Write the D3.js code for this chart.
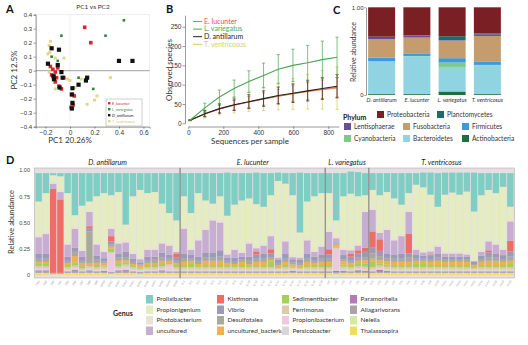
<!DOCTYPE html>
<html>
<head>
<meta charset="utf-8">
<script src="https://cdn.jsdelivr.net/npm/d3@7"></script>
<style>
body { margin: 0; background: #fff; }
svg { display: block; font-family: Lato, "Open Sans", sans-serif; }
</style>
</head>
<body>
<div id="fig"></div>
<script>
// ---------- A: PCoA ----------
const pcaLucunter = [[0.12,0.31],[0.17,0.20],[-0.16,0.03],[-0.14,0.01],[-0.12,-0.01],[-0.15,-0.03],[-0.13,-0.04],[-0.11,-0.05],[-0.10,0.02],[-0.05,-0.05],[-0.09,-0.11],[-0.07,-0.13],[0.02,-0.17],[0.035,-0.18],[0.025,-0.245],[0.01,-0.26],[-0.12,-0.08]];
const pcaVariegatus = [[-0.07,0.25],[0.44,0.36],[0.29,0.25],[0.19,-0.13],[0.07,-0.05],[-0.10,0.07],[-0.15,0.10]];
const pcaAntillarum = [[-0.15,0.16],[-0.09,0.15],[-0.18,0.05],[-0.10,0.04],[-0.07,-0.01],[-0.135,-0.04],[-0.13,-0.06],[-0.06,-0.05],[-0.085,-0.12],[0.02,-0.125],[0.015,-0.17],[0.02,-0.23],[0.015,-0.27],[0.07,-0.10],[0.13,-0.07],[0.14,-0.05],[0.40,0.07],[0.51,0.07]];
const pcaVentricosus = [[-0.16,0.21],[-0.17,0.18],[-0.165,0.13],[-0.18,0.12],[-0.12,0.09],[-0.17,-0.01],[-0.14,-0.07],[-0.05,0.09],[-0.02,-0.06],[0.0,-0.07],[0.04,-0.12],[0.33,-0.05],[0.20,-0.21],[0.14,-0.24],[-0.12,-0.13],[0.09,-0.06],[0.22,-0.18]];

// ---------- B: rarefaction ----------
const depths = [10,94,178,262,346,430,514,598,682,766,850];
const obsLucunter = [8,24,37,47,55,63,70,77,83,88,93];
const errLucunter = [1,6,9,12,14,16,18,20,22,24,25];
const obsVariegatus = [8,40,68,90,108,124,140,150,157,165,171];
const errVariegatus = [1,12,18,22,28,32,38,42,45,48,52];
const obsAntillarum = [8,25,38,48,56,64,72,78,84,90,96];
const errAntillarum = [1,8,12,15,18,20,22,24,26,28,30];
const obsVentricosus = [8,24,37,47,56,63,70,76,82,87,91];
const errVentricosus = [1,10,15,20,25,30,35,40,45,50,55];

// ---------- C: phylum ----------
const hosts = ["D. antillarum","E. lucunter","L. variegatus","T. ventricosus"];
const actinobacteria = [0.01,0.01,0.04,0.01];
const bacteroidetes  = [0.37,0.43,0.28,0.33];
const cyanobacteria  = [0.005,0.005,0.05,0.003];
const firmicutes     = [0.04,0.03,0.05,0.04];
const fusobacteria   = [0.21,0.18,0.20,0.29];
const lentisphaerae  = [0.015,0.02,0.005,0.02];
const planctomycetes = [0.015,0.005,0.045,0.01];
const proteobacteria = [0.335,0.32,0.33,0.297];

// ---------- D: genus per sample ----------
const groupCodes = ["DA","EL","LV","TV"];
const groupSizes = [20,20,6,20];
const prolixibacter = [
  .27,.19,.02,.03,.19,.40,.31,.27,.22,.19,.21,.18,.49,.22,.16,.19,.18,.29,.38,.45,
  .22,.38,.19,.26,.29,.22,.41,.30,.26,.24,.30,.32,.21,.08,.10,.21,.57,.27,.22,.19,
  .19,.45,.22,.21,.23,.21,
  .16,.21,.18,.24,.30,.19,.11,.14,.21,.32,.21,.19,.21,.18,.37,.21,.16,.19,.13,.32];
const propionigenium = [
  .32,.37,.06,.13,.47,.11,.41,.08,.44,.54,.30,.47,.15,.53,.64,.52,.53,.36,.29,.28,
  .29,.33,.43,.26,.14,.23,.35,.41,.48,.41,.40,.35,.37,.71,.53,.57,.22,.35,.51,.49,
  .35,.15,.49,.52,.45,.14,
  .17,.34,.34,.38,.28,.16,.60,.60,.52,.36,.54,.56,.54,.58,.45,.52,.47,.47,.58,.12];
const photobacterium = [
  .02,.02,.02,.02,.02,.02,.02,.02,.02,.02,.02,.02,.02,.02,.02,.02,.02,.02,.02,.02,
  .02,.02,.02,.02,.02,.02,.02,.02,.02,.02,.02,.02,.02,.02,.02,.02,.02,.02,.02,.02,
  .02,.02,.02,.02,.02,.02,
  .02,.02,.02,.02,.02,.02,.02,.02,.02,.02,.02,.02,.02,.02,.02,.02,.02,.02,.02,.02];
const uncultured = [
  .155,.185,.05,.07,.115,.18,.055,.135,.105,.06,.07,.095,.09,.045,.03,.065,.065,.085,.085,.015,
  .235,.045,.155,.215,.305,.265,.03,.075,.035,.125,.03,.075,.125,.02,.115,.02,.02,.125,.045,.075,
  .165,.04,.05,.03,.045,.34,
  .205,.06,.23,.135,.165,.205,.045,.03,.03,.065,.03,.03,.03,.02,.01,.035,.085,.085,.045,.185];
const kistimonas = [
  0,0,.80,.70,0,0,0,.02,0,0,.05,0,0,0,0,0,0,0,0,.04,
  0,0,0,0,0,0,0,0,0,0,.03,0,.04,0,0,0,0,0,0,0,
  .05,0,0,.03,.03,.04,
  .15,.11,0,0,0,.19,0,0,.01,0,0,0,0,0,0,0,.02,0,.01,.10];
const vibrio = [
  .05,.05,0,0,.04,.04,.04,.03,.04,.03,.03,.04,.05,.03,.02,.04,.03,.05,.04,.03,
  .05,.04,.04,.05,.05,.06,.03,.04,.03,.04,.04,.05,.04,.03,.05,.03,.03,.05,.04,.04,
  .04,.01,.04,.04,.04,.05,
  .06,.05,.04,.04,.05,.04,.04,.03,.04,.04,.03,.03,.03,.03,.02,.04,.05,.04,.04,.05];
const desulfotalea = [
  .03,.03,0,0,.02,.04,.02,.30,.03,.02,.02,.03,.03,.02,.01,.02,.03,.03,.02,.02,
  .03,.02,.03,.03,.03,.04,.02,.02,.02,.03,.03,.03,.02,.02,.03,.02,.02,.03,.02,.03,
  .03,.01,.02,.02,.03,.03,
  .05,.04,.03,.03,.03,.04,.02,.02,.02,.03,.02,.02,.02,.02,.01,.02,.03,.03,.02,.04];
const unculturedBacterium = [
  .02,.02,.01,.01,.02,.06,.03,.02,.02,.02,.02,.03,.02,.02,.02,.02,.02,.03,.02,.02,
  .03,.03,.02,.04,.04,.04,.03,.02,.03,.02,.03,.03,.02,.02,.03,.02,.02,.03,.02,.03,
  .03,.02,.03,.02,.03,.03,
  .03,.03,.03,.03,.03,.03,.03,.03,.03,.04,.03,.03,.03,.03,.02,.03,.04,.04,.03,.03];
const sedimentibacter = [
  .02,.02,0,0,.02,.03,.02,.01,.02,.01,.03,.02,.02,.01,.01,.02,.02,.02,.01,.02,
  .02,.03,.01,.02,.02,.02,.01,.01,.02,.01,.02,.02,.05,.01,.02,.01,.01,.02,.02,.02,
  .02,.01,.02,.02,.02,.03,
  .05,.02,.02,.02,.02,.02,.03,.03,.02,.02,.02,.02,.02,.02,.01,.02,.02,.02,.02,.03];
const ferrimonas = [
  .02,.02,0,0,.02,.02,.02,.02,.02,.02,.01,.02,.02,.02,.01,.02,.02,.02,.02,.02,
  .02,.02,.02,.02,.02,.02,.02,.02,.02,.02,.02,.02,.02,.01,.02,.01,.01,.02,.02,.02,
  .02,.01,.02,.02,.02,.02,
  .02,.02,.02,.02,.02,.02,.02,.02,.02,.02,.02,.02,.02,.02,.01,.02,.02,.02,.02,.02];
const propionibacterium = [
  .01,.01,0,0,.01,.01,0,.01,.01,.01,.17,.01,.02,.01,.01,.01,.01,.01,.04,.01,
  .01,.01,.01,.01,.01,.01,.01,.01,.01,.01,.01,.01,.01,.01,.01,.01,.01,.01,.01,.01,
  .01,.20,.01,.01,.01,.01,
  .01,.01,.01,.01,.01,.01,.01,.01,.01,.01,.01,.01,.01,.01,.01,.01,.01,.01,.01,.01];
const persicobacter = [
  .01,.01,.005,.005,.01,.01,.01,.01,.01,.01,.01,.01,.01,.01,.01,.01,.01,.01,.01,.01,
  .01,.01,.01,.01,.01,.01,.01,.01,.01,.01,.01,.01,.01,.01,.01,.01,.01,.01,.01,.01,
  .01,.01,.01,.01,.01,.01,
  .01,.01,.01,.01,.01,.01,.01,.01,.01,.01,.01,.01,.01,.01,.01,.01,.01,.01,.01,.01];
const paramoritella = [
  .005,.005,0,0,.005,.01,.005,.005,.005,.01,.005,.005,.01,.005,.005,.005,.005,.005,.005,.005,
  .005,.005,.005,.005,.005,.005,.005,.005,.005,.005,.005,.005,.005,.005,.005,.01,.005,.005,.005,.005,
  .005,.015,.01,.005,.015,.01,
  .005,.02,.01,.005,.005,.005,.005,.005,.005,.005,.005,.005,.005,.005,.005,.005,.005,.005,.005,.005];
const aliagarivorans = [
  .02,.02,0,0,.01,.02,.01,.02,.01,.01,.01,.02,.02,.01,.01,.01,.01,.02,.01,.01,
  .01,.01,.01,.01,.01,.01,.01,.01,.01,.01,.01,.01,.01,.01,.01,.01,.01,.01,.01,.01,
  .01,.01,.01,.01,.01,.01,
  .01,.01,.01,.01,.01,.01,.01,.01,.01,.01,.01,.01,.01,.01,.01,.01,.01,.01,.01,.01];
const neiella = [
  .01,.01,0,0,.01,.01,.01,.01,.01,.01,.01,.01,.01,.01,.01,.01,.01,.01,.01,.01,
  .01,.01,.01,.01,.01,.01,.01,.01,.01,.01,.01,.01,.01,.01,.01,.01,.01,.01,.01,.01,
  .01,.01,.01,.01,.01,.01,
  .01,.01,.01,.01,.01,.01,.01,.01,.01,.01,.01,.01,.01,.01,.01,.01,.01,.01,.01,.01];
const thalassospira = [
  .01,.01,.005,.005,.01,.01,.01,.01,.01,.01,.005,.01,.01,.01,.005,.01,.01,.01,.01,.01,
  .01,.01,.01,.01,.01,.01,.01,.01,.01,.01,.01,.01,.01,.01,.01,.01,.01,.01,.01,.01,
  .01,.005,.01,.01,.01,.01,
  .01,.01,.01,.01,.01,.01,.01,.01,.01,.01,.01,.01,.01,.01,.01,.01,.01,.01,.01,.01];

const genera = [
  { name: "Prolixibacter", values: prolixibacter, color: "#80cdc3" },
  { name: "Propionigenium", values: propionigenium, color: "#e5ecc1" },
  { name: "Photobacterium", values: photobacterium, color: "#ebe2d6" },
  { name: "uncultured", values: uncultured, color: "#c7add1" },
  { name: "Kistimonas", values: kistimonas, color: "#ee6e66" },
  { name: "Vibrio", values: vibrio, color: "#9c99b9" },
  { name: "Desulfotalea", values: desulfotalea, color: "#a9aa9b" },
  { name: "uncultured_bacterium", values: unculturedBacterium, color: "#efb04f" },
  { name: "Sedimentibacter", values: sedimentibacter, color: "#a5cf5c" },
  { name: "Ferrimonas", values: ferrimonas, color: "#dccaa9" },
  { name: "Propionibacterium", values: propionibacterium, color: "#eccadd" },
  { name: "Persicobacter", values: persicobacter, color: "#d7d7d7" },
  { name: "Paramoritella", values: paramoritella, color: "#b47ab8" },
  { name: "Aliagarivorans", values: aliagarivorans, color: "#aba2aa" },
  { name: "Neiella", values: neiella, color: "#d4e8a9" },
  { name: "Thalassospira", values: thalassospira, color: "#f2dc5b" },
];

const speciesColor = {
  lucunter: "#d8262f", variegatus: "#2e8540", antillarum: "#111", ventricosus: "#e0d98a",
};

const svg = d3.select("#fig").append("svg").attr("width", 528).attr("height", 345);
svg.append("rect").attr("width", 528).attr("height", 345).attr("fill", "#fff");

function styleAxis(g, size) {
  g.selectAll("text").style("font-size", size + "px").attr("fill", "#333");
  g.selectAll("line").attr("stroke", "#555").attr("stroke-width", 0.6);
  g.select(".domain").attr("stroke", "#555").attr("stroke-width", 0.6);
}

function panelLetter(t, x, y) {
  svg.append("text").attr("x", x).attr("y", y).text(t)
    .style("font-size", "11px").style("font-weight", "bold").attr("fill", "#111");
}

// ===== Panel A =====
function drawA() {
  const x = d3.scaleLinear().domain([-0.28, 0.65]).range([35.7, 149.6]);
  const y = d3.scaleLinear().domain([-0.4, 0.4]).range([126.7, 14.7]);
  const g = svg.append("g");
  g.append("rect").attr("x", x(-0.28)).attr("y", y(0.4))
    .attr("width", x(0.65) - x(-0.28)).attr("height", y(-0.4) - y(0.4))
    .attr("fill", "none").attr("stroke", "#ddd").attr("stroke-width", 0.5);
  g.append("line").attr("x1", x(0)).attr("x2", x(0)).attr("y1", y(0.4)).attr("y2", y(-0.4))
    .attr("stroke", "#ccc").attr("stroke-width", 0.5).attr("stroke-dasharray", "1,1");
  g.append("line").attr("x1", x(-0.28)).attr("x2", x(0.65)).attr("y1", y(0)).attr("y2", y(0))
    .attr("stroke", "#777").attr("stroke-width", 0.7);
  const fmt = (d) => (d === 0 ? "0" : d3.format(".1f")(d));
  const xa = g.append("g").attr("transform", `translate(0,${y(-0.4)})`)
    .call(d3.axisBottom(x).tickValues([-0.2, 0, 0.2, 0.4, 0.6]).tickSize(2).tickPadding(1.5).tickFormat(fmt));
  styleAxis(xa, 6.5);
  const ya = g.append("g").attr("transform", `translate(${x(-0.28)},0)`)
    .call(d3.axisLeft(y).tickValues(d3.range(-4, 5).map((d) => d / 10)).tickSize(2).tickPadding(1.5).tickFormat(fmt));
  styleAxis(ya, 6);

  const sets = [
    { pts: pcaVentricosus, color: speciesColor.ventricosus, s: 3 },
    { pts: pcaLucunter, color: speciesColor.lucunter, s: 3.6 },
    { pts: pcaAntillarum, color: speciesColor.antillarum, s: 4.2 },
    { pts: pcaVariegatus, color: speciesColor.variegatus, s: 2.6 },
  ];
  sets.forEach((set) => {
    g.append("g").selectAll("rect").data(set.pts).enter().append("rect")
      .attr("x", (d) => x(d[0]) - set.s / 2).attr("y", (d) => y(d[1]) - set.s / 2)
      .attr("width", set.s).attr("height", set.s).attr("fill", set.color);
  });

  g.append("text").attr("x", 93).attr("y", 9).attr("text-anchor", "middle")
    .style("font-size", "6.5px").attr("fill", "#333").text("PC1 vs PC2");
  g.append("text").attr("transform", "translate(17,70) rotate(-90)").attr("text-anchor", "middle")
    .style("font-size", "8px").attr("fill", "#333").text("PC2 12.5%");
  g.append("text").attr("x", 70).attr("y", 143).attr("text-anchor", "middle")
    .style("font-size", "8px").attr("fill", "#333").text("PC1 20.26%");

  // legend
  const lg = g.append("g").attr("transform", "translate(106,99)");
  lg.append("rect").attr("width", 36).attr("height", 27).attr("fill", "#fff")
    .attr("stroke", "#888").attr("stroke-width", 0.4);
  const items = [
    ["E_lucunter", speciesColor.lucunter], ["L_variegatus", speciesColor.variegatus],
    ["D_antillarum", speciesColor.antillarum], ["T_ventricosus", speciesColor.ventricosus],
  ];
  items.forEach(([t, c], i) => {
    lg.append("rect").attr("x", 2).attr("y", 3 + i * 6).attr("width", 2.4).attr("height", 2.4).attr("fill", c);
    lg.append("text").attr("x", 6).attr("y", 5.6 + i * 6).style("font-size", "3.8px")
      .attr("fill", c === speciesColor.ventricosus ? "#d2c96a" : c).text(t);
  });
}

// ===== Panel B =====
function drawB() {
  const x = d3.scaleLinear().domain([0, 860]).range([188.3, 338.8]);
  const y = d3.scaleLinear().domain([0, 280]).range([123.3, 15.2]);
  const g = svg.append("g");
  const xa = g.append("g").attr("transform", "translate(0,126.5)")
    .call(d3.axisBottom(x).tickValues([0, 200, 400, 600, 800]).tickSize(2.5).tickPadding(1).tickSizeOuter(0));
  styleAxis(xa, 6.5);
  const ya = g.append("g").attr("transform", "translate(185,0)")
    .call(d3.axisLeft(y).tickValues([0, 50, 100, 150, 200, 250]).tickSize(2.5).tickPadding(1).tickSizeOuter(0));
  styleAxis(ya, 6.5);

  const series = [
    { name: "T. ventricosus", obs: obsVentricosus, err: errVentricosus, color: "#d4cb5c", text: "#d8cf6a" },
    { name: "E. lucunter", obs: obsLucunter, err: errLucunter, color: "#e36a64", text: "#e0504a" },
    { name: "D. antillarum", obs: obsAntillarum, err: errAntillarum, color: "#222", text: "#222" },
    { name: "L. variegatus", obs: obsVariegatus, err: errVariegatus, color: "#4aa54e", text: "#4caa55" },
  ];
  const line = d3.line().x((d) => x(d[0])).y((d) => y(d[1]));
  series.forEach((s) => {
    const pts = depths.map((d, i) => [d, s.obs[i], s.err[i]]);
    const eg = g.append("g").attr("stroke", s.color).attr("stroke-width", 0.7);
    eg.selectAll("line.v").data(pts).enter().append("line")
      .attr("x1", (d) => x(d[0])).attr("x2", (d) => x(d[0]))
      .attr("y1", (d) => y(d[1] - d[2])).attr("y2", (d) => y(d[1] + d[2]));
    eg.selectAll("line.t").data(pts).enter().append("line")
      .attr("x1", (d) => x(d[0]) - 1.6).attr("x2", (d) => x(d[0]) + 1.6)
      .attr("y1", (d) => y(d[1] + d[2])).attr("y2", (d) => y(d[1] + d[2]));
    eg.selectAll("line.b").data(pts).enter().append("line")
      .attr("x1", (d) => x(d[0]) - 1.6).attr("x2", (d) => x(d[0]) + 1.6)
      .attr("y1", (d) => y(d[1] - d[2])).attr("y2", (d) => y(d[1] - d[2]));
    g.append("path").datum(pts).attr("d", line).attr("fill", "none")
      .attr("stroke", s.color).attr("stroke-width", 1.1);
  });

  const legendOrder = [series[1], series[3], series[2], series[0]];
  legendOrder.forEach((s, i) => {
    const yy = 21.5 + i * 7.6;
    g.append("line").attr("x1", 193).attr("x2", 202).attr("y1", yy).attr("y2", yy)
      .attr("stroke", s.color).attr("stroke-width", 1);
    g.append("text").attr("x", 204).attr("y", yy + 2.3).style("font-size", "7px")
      .attr("fill", s.text).text(s.name);
  });

  g.append("text").attr("transform", "translate(172,70) rotate(-90)").attr("text-anchor", "middle")
    .style("font-size", "8px").attr("fill", "#333").text("Observed species");
  g.append("text").attr("x", 250).attr("y", 143.5).attr("text-anchor", "middle")
    .style("font-size", "8px").attr("fill", "#333").text("Sequences per sample");
}

// ===== Panel C =====
function drawC() {
  const phyla = [
    { name: "Actinobacteria", values: actinobacteria, color: "#1f6e3b" },
    { name: "Bacteroidetes", values: bacteroidetes, color: "#90d3e1" },
    { name: "Cyanobacteria", values: cyanobacteria, color: "#7fc88a" },
    { name: "Firmicutes", values: firmicutes, color: "#3b9bd8" },
    { name: "Fusobacteria", values: fusobacteria, color: "#c49c6e" },
    { name: "Lentisphaerae", values: lentisphaerae, color: "#6b4d9d" },
    { name: "Planctomycetes", values: planctomycetes, color: "#20696c" },
    { name: "Proteobacteria", values: proteobacteria, color: "#7a2025" },
  ];
  const rows = hosts.map((h, i) => {
    const r = { host: h };
    phyla.forEach((p) => (r[p.name] = p.values[i]));
    return r;
  });
  const stack = d3.stack().keys(phyla.map((p) => p.name))(rows);
  const x = d3.scaleBand().domain(hosts).range([364, 505]).paddingInner(0.234).paddingOuter(0.117);
  const y = d3.scaleLinear().domain([0, 1]).range([95, 7.3]);
  const g = svg.append("g");
  g.selectAll("g.layer").data(stack).enter().append("g")
    .attr("fill", (d, i) => phyla[i].color)
    .selectAll("rect").data((d) => d).enter().append("rect")
    .attr("x", (d) => x(d.data.host)).attr("width", x.bandwidth())
    .attr("y", (d) => y(d[1])).attr("height", (d) => Math.max(0, y(d[0]) - y(d[1])));
  const ya = g.append("g").attr("transform", "translate(366,0)")
    .call(d3.axisLeft(y).tickValues([0, 1]).tickSize(1.5).tickPadding(1).tickSizeOuter(0)
      .tickFormat((d) => (d === 0 ? "0" : "1.00")));
  styleAxis(ya, 6);
  g.append("g").selectAll("text").data(hosts).enter().append("text")
    .attr("x", (d) => x(d) + x.bandwidth() / 2).attr("y", 101.5).attr("text-anchor", "middle")
    .style("font-size", "5.6px").style("font-style", "italic").attr("fill", "#333").text((d) => d);
  g.append("text").attr("transform", "translate(356,52) rotate(-90)").attr("text-anchor", "middle")
    .style("font-size", "7px").attr("fill", "#333").text("Relative abundance");

  // legend
  g.append("text").attr("x", 343).attr("y", 120).style("font-size", "7px")
    .style("font-weight", "bold").attr("fill", "#222").text("Phylum");
  const legendCells = [
    ["Proteobacteria", 377, 117], ["Planctomycetes", 437, 117],
    ["Lentisphaerae", 344, 129], ["Fusobacteria", 403, 129], ["Firmicutes", 462, 129],
    ["Cyanobacteria", 344, 141], ["Bacteroidetes", 403, 141], ["Actinobacteria", 462, 141],
  ];
  legendCells.forEach(([name, lx, ly]) => {
    const p = phyla.find((q) => q.name === name);
    g.append("rect").attr("x", lx).attr("y", ly - 6).attr("width", 7).attr("height", 7).attr("fill", p.color);
    g.append("text").attr("x", lx + 10).attr("y", ly).style("font-size", "6.6px").attr("fill", "#333").text(name);
  });
}

// ===== Panel D =====
function drawD() {
  const samples = [];
  groupCodes.forEach((c, gi) => {
    for (let k = 1; k <= groupSizes[gi]; k++) samples.push({ id: `${c}${k}`, group: gi });
  });
  const rows = samples.map((s, i) => {
    const r = { id: s.id };
    genera.forEach((gn) => (r[gn.name] = gn.values[i]));
    return r;
  });
  const order = genera.slice().reverse();
  const stack = d3.stack().keys(order.map((gn) => gn.name))(rows);
  const x = d3.scaleBand().domain(samples.map((s) => s.id)).range([35, 514]).paddingInner(0.12).paddingOuter(0.06);
  const y = d3.scaleLinear().domain([0, 1]).range([275, 170]);
  const g = svg.append("g");

  // facet panels
  let start = 0;
  const groupNames = ["D. antillarum", "E. lucunter", "L. variegatus", "T. ventricosus"];
  groupSizes.forEach((n, gi) => {
    const x0 = x(samples[start].id) - x.step() * x.paddingInner() / 2 - 0.4;
    const x1 = x(samples[start + n - 1].id) + x.bandwidth() + x.step() * x.paddingInner() / 2 + 0.4;
    g.append("rect").attr("x", x0).attr("y", 168).attr("width", x1 - x0).attr("height", 110)
      .attr("fill", "#e4e0e2").attr("stroke", "#b8a9ae").attr("stroke-width", 0.6);
    g.append("text").attr("x", (x0 + x1) / 2).attr("y", 165).attr("text-anchor", "middle")
      .style("font-size", "7.2px").style("font-style", "italic").attr("fill", "#222").text(groupNames[gi]);
    start += n;
  });

  g.selectAll("g.layer").data(stack).enter().append("g")
    .attr("fill", (d, i) => order[i].color)
    .selectAll("rect").data((d) => d).enter().append("rect")
    .attr("x", (d) => x(d.data.id)).attr("width", x.bandwidth())
    .attr("y", (d) => y(d[1])).attr("height", (d) => Math.max(0, y(d[0]) - y(d[1])));

  // dividers
  start = 0;
  groupSizes.slice(0, 3).forEach((n) => {
    start += n;
    const xx = x(samples[start].id) - x.step() * x.paddingInner() / 2;
    g.append("line").attr("x1", xx).attr("x2", xx).attr("y1", 168).attr("y2", 278)
      .attr("stroke", "#8f8a8c").attr("stroke-width", 1.2);
  });

  const ya = g.append("g").attr("transform", "translate(33,0)")
    .call(d3.axisLeft(y).tickValues([0, 0.25, 0.5, 0.75, 1]).tickSize(0)
      .tickFormat((d) => (d === 0 ? "0" : d3.format(".2f")(d))));
  ya.select(".domain").remove();
  ya.selectAll("text").style("font-size", "5.5px").attr("fill", "#444");

  g.append("g").selectAll("text").data(samples).enter().append("text")
    .attr("transform", (d) => `translate(${x(d.id) + x.bandwidth() / 2 + 1.5},281) rotate(-60)`)
    .attr("text-anchor", "end").style("font-size", "2.8px").attr("fill", "#999").text((d) => d.id);

  g.append("text").attr("transform", "translate(14,222) rotate(-90)").attr("text-anchor", "middle")
    .style("font-size", "7.5px").attr("fill", "#333").text("Relative abundance");

  // genus legend
  g.append("text").attr("x", 113).attr("y", 316).style("font-size", "7px")
    .style("font-weight", "bold").attr("fill", "#222").text("Genus");
  const colX = [146, 217, 282, 350];
  const rowY = [295, 305.5, 316, 326.5];
  genera.forEach((gn, i) => {
    const cx = colX[Math.floor(i / 4)];
    const cy = rowY[i % 4];
    g.append("rect").attr("x", cx).attr("y", cy).attr("width", 7).attr("height", 8.5).attr("fill", gn.color);
    g.append("text").attr("x", cx + 10.5).attr("y", cy + 6.3).style("font-size", "6.4px")
      .attr("fill", "#333").text(gn.name);
  });
}

drawA();
drawB();
drawC();
drawD();
panelLetter("A", 6, 13);
panelLetter("B", 166, 13);
panelLetter("C", 333, 14);
panelLetter("D", 6, 164);
</script>
</body>
</html>
